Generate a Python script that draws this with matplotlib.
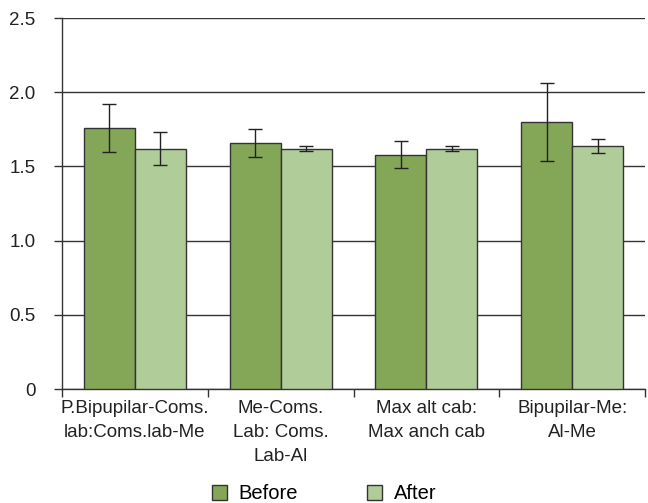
import numpy as np
import matplotlib.pyplot as plt

plt.rcParams['font.family'] = ['Liberation Sans', 'DejaVu Sans']

categories = ["P.Bipupilar-Coms.\nlab:Coms.lab-Me",
              "Me-Coms.\nLab: Coms.\nLab-Al",
              "Max alt cab:\nMax anch cab",
              "Bipupilar-Me:\nAl-Me"]
before = [1.76, 1.66, 1.58, 1.80]
before_err = [0.16, 0.095, 0.088, 0.265]
after = [1.62, 1.62, 1.62, 1.64]
after_err = [0.11, 0.015, 0.015, 0.047]
yticks = [0, 0.5, 1.0, 1.5, 2.0, 2.5]
ytick_labels = ["0", "0.5", "1.0", "1.5", "2.0", "2.5"]

c_before = "#84a757"
c_after = "#b0cc99"
edge = "#333333"

fig = plt.figure(figsize=(6.48, 5.03), dpi=100)
ax = fig.add_axes([0.0957, 0.2266, 0.8997, 0.7376])

x = np.arange(len(categories))
w = 0.35
err_kw = dict(ecolor="#222222", elinewidth=1.0, capsize=5, capthick=1.0)
ax.bar(x - w / 2, before, w, yerr=before_err, color=c_before, edgecolor=edge,
       linewidth=1.0, error_kw=err_kw, label="Before", zorder=3)
ax.bar(x + w / 2, after, w, yerr=after_err, color=c_after, edgecolor=edge,
       linewidth=1.0, error_kw=err_kw, label="After", zorder=3)

ax.set_xlim(-0.5, len(categories) - 0.5)
ax.set_ylim(0, 2.5)
ax.set_yticks(yticks)
ax.set_yticklabels(ytick_labels, fontsize=13.5, color="#222222")
ax.yaxis.grid(True, color="#333333", linewidth=1.0, zorder=0)
ax.set_axisbelow(True)

# category labels between boundary ticks
ax.set_xticks(x)
ax.set_xticklabels(categories, fontsize=13.5, color="#222222", linespacing=1.55)
ax.tick_params(axis="x", which="major", length=0, pad=8)
ax.set_xticks(np.arange(-0.5, len(categories)), minor=True)
ax.tick_params(axis="x", which="minor", length=6, width=1.0, color="#333333")
ax.tick_params(axis="y", length=6, width=1.0, color="#333333", pad=13)

for s in ["top", "right"]:
    ax.spines[s].set_visible(False)
for s in ["left", "bottom"]:
    ax.spines[s].set_color("#333333")
    ax.spines[s].set_linewidth(1.0)

fig.legend(loc="lower center", bbox_to_anchor=(0.5, -0.037), ncol=2, frameon=False,
           fontsize=14.5, handlelength=0.75, handleheight=0.75, columnspacing=3.4,
           handletextpad=0.6)

fig.savefig("out.png", dpi=100)
